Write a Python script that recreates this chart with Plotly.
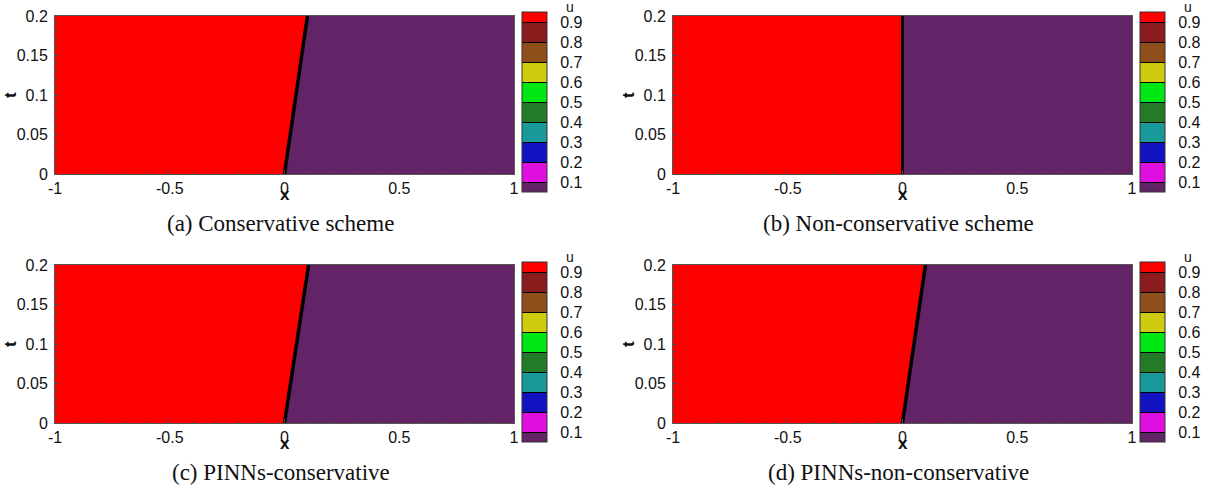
import numpy as np
import plotly.graph_objects as go

W, H = 1212, 490

# Riemann states and shock positions (x at t=0 and t=0.2) for each run
u_left = 1.0
u_right = 0.0
t_end = 0.2
shock_x0 = [0.0, 0.0, 0.0, 0.0]
shock_x1 = [0.10, 0.0, 0.105, 0.10]
captions = ["(a) Conservative scheme", "(b) Non-conservative scheme",
            "(c) PINNs-conservative", "(d) PINNs-non-conservative"]

# contour levels, colour range and band colours (lowest band first)
levels = [0.1, 0.2, 0.3, 0.4, 0.5, 0.6, 0.7, 0.8, 0.9]
u_min, u_max = 0.05, 0.95
band_colors = ["#622466", "#df10df", "#1212c0", "#199a9a", "#237a27",
               "#00e814", "#cfcc0f", "#8f4f1a", "#8a1c1e", "#ff0000"]

x_ticks = [-1, -0.5, 0, 0.5, 1]
x_ticktext = ["-1", "-0.5", "0", "0.5", "1"]
t_ticks = [0, 0.05, 0.1, 0.15, 0.2]
t_ticktext = ["0", "0.05", "0.1", "0.15", "0.2"]

# stepped colour scale on [u_min, u_max] with breaks at the contour levels
bounds = [u_min] + levels + [u_max]
colorscale = []
for i, c in enumerate(band_colors):
    colorscale.append([(bounds[i] - u_min) / (u_max - u_min), c])
    colorscale.append([(bounds[i + 1] - u_min) / (u_max - u_min), c])

# panel boxes in pixels: (left, right, top, bottom)
boxes = [(55, 514, 16, 174), (673, 1132, 16, 174),
         (55, 514, 265, 423), (673, 1132, 265, 423)]
cbar_boxes = [(522, 12), (1140, 12), (522, 262), (1140, 262)]

xg = np.linspace(-1, 1, 801)
tg = np.linspace(0, t_end, 81)

SANS = "Liberation Sans"
fig = go.Figure()
annotations = []
for k in range(4):
    L, R, T, B = boxes[k]
    xa = "x" if k == 0 else f"x{k + 1}"
    ya = "y" if k == 0 else f"y{k + 1}"
    s = shock_x0[k] + (shock_x1[k] - shock_x0[k]) * tg / t_end
    field = np.where(xg[None, :] < s[:, None], u_left, u_right)
    cx, cy = cbar_boxes[k]
    fig.add_trace(go.Contour(
        x=xg, y=tg, z=field, xaxis=xa, yaxis=ya,
        zmin=u_min, zmax=u_max, colorscale=colorscale,
        contours=dict(start=levels[0], end=levels[-1], size=0.1,
                      coloring="heatmap", showlines=True),
        line=dict(color="black", width=1, smoothing=0),
        showscale=True,
        colorbar=dict(
            x=cx / W, xanchor="left", y=1 - cy / H, yanchor="top",
            len=180, lenmode="pixels", thickness=25, thicknessmode="pixels",
            xpad=0, ypad=0, outlinecolor="#333", outlinewidth=1,
            tickvals=levels, ticktext=[f"{v:.1f}" for v in levels],
            ticks="outside", ticklen=10, tickcolor="rgba(0,0,0,0)",
            tickfont=dict(family=SANS, size=16, color="#111"),
        ),
        hoverinfo="skip",
    ))
    # the shock front
    fig.add_trace(go.Scatter(
        x=[shock_x0[k], shock_x1[k]], y=[0, t_end], xaxis=xa, yaxis=ya,
        mode="lines", line=dict(color="black", width=3.5 if k != 1 else 2.5),
        showlegend=False, hoverinfo="skip",
    ))
    axis_common = dict(
        showline=True, linecolor="#555", linewidth=1, mirror=True,
        ticks="inside", ticklen=4, tickcolor="#444", showgrid=False,
        zeroline=False, automargin=False,
        tickfont=dict(family=SANS, size=16, color="#111"),
    )
    fig.update_layout(**{
        ("xaxis" if k == 0 else f"xaxis{k + 1}"): dict(
            domain=[L / W, R / W], anchor=ya, range=[-1, 1],
            tickvals=x_ticks, ticktext=x_ticktext,
            minor=dict(dtick=0.1, ticks="inside", ticklen=2, tickcolor="#444"),
            **axis_common),
        ("yaxis" if k == 0 else f"yaxis{k + 1}"): dict(
            domain=[1 - B / H, 1 - T / H], anchor=xa, range=[0, t_end],
            tickvals=t_ticks, ticktext=t_ticktext, ticklabelstandoff=3,
            minor=dict(dtick=0.01, ticks="inside", ticklen=2, tickcolor="#444"),
            **axis_common),
    })
    # axis titles
    annotations.append(dict(
        text="<b>x</b>", x=(L + (R - L) / 2) / W, y=1 - (B + 20) / H,
        xref="paper", yref="paper", showarrow=False,
        xanchor="center", yanchor="middle",
        font=dict(family=SANS, size=17, color="#111")))
    annotations.append(dict(
        text="<b>t</b>", x=(L - 45) / W, y=1 - ((T + B) / 2) / H,
        xref="paper", yref="paper", showarrow=False, textangle=-90,
        xanchor="center", yanchor="middle",
        font=dict(family=SANS, size=17, color="#111")))
    annotations.append(dict(
        text="u", x=(cx + 48) / W, y=1 - (cy - 5) / H,
        xref="paper", yref="paper", showarrow=False,
        xanchor="center", yanchor="middle",
        font=dict(family=SANS, size=14, color="#111")))
    annotations.append(dict(
        text=captions[k], x=(L + (R - L) / 2 - 4) / W, y=1 - (B + 49) / H,
        xref="paper", yref="paper", showarrow=False,
        xanchor="center", yanchor="middle",
        font=dict(family="Liberation Serif", size=23, color="#111")))

fig.update_layout(
    width=W, height=H,
    margin=dict(l=0, r=0, t=0, b=0, autoexpand=False),
    paper_bgcolor="white", plot_bgcolor="white",
    showlegend=False, annotations=annotations,
)

fig.write_html("out.html")
